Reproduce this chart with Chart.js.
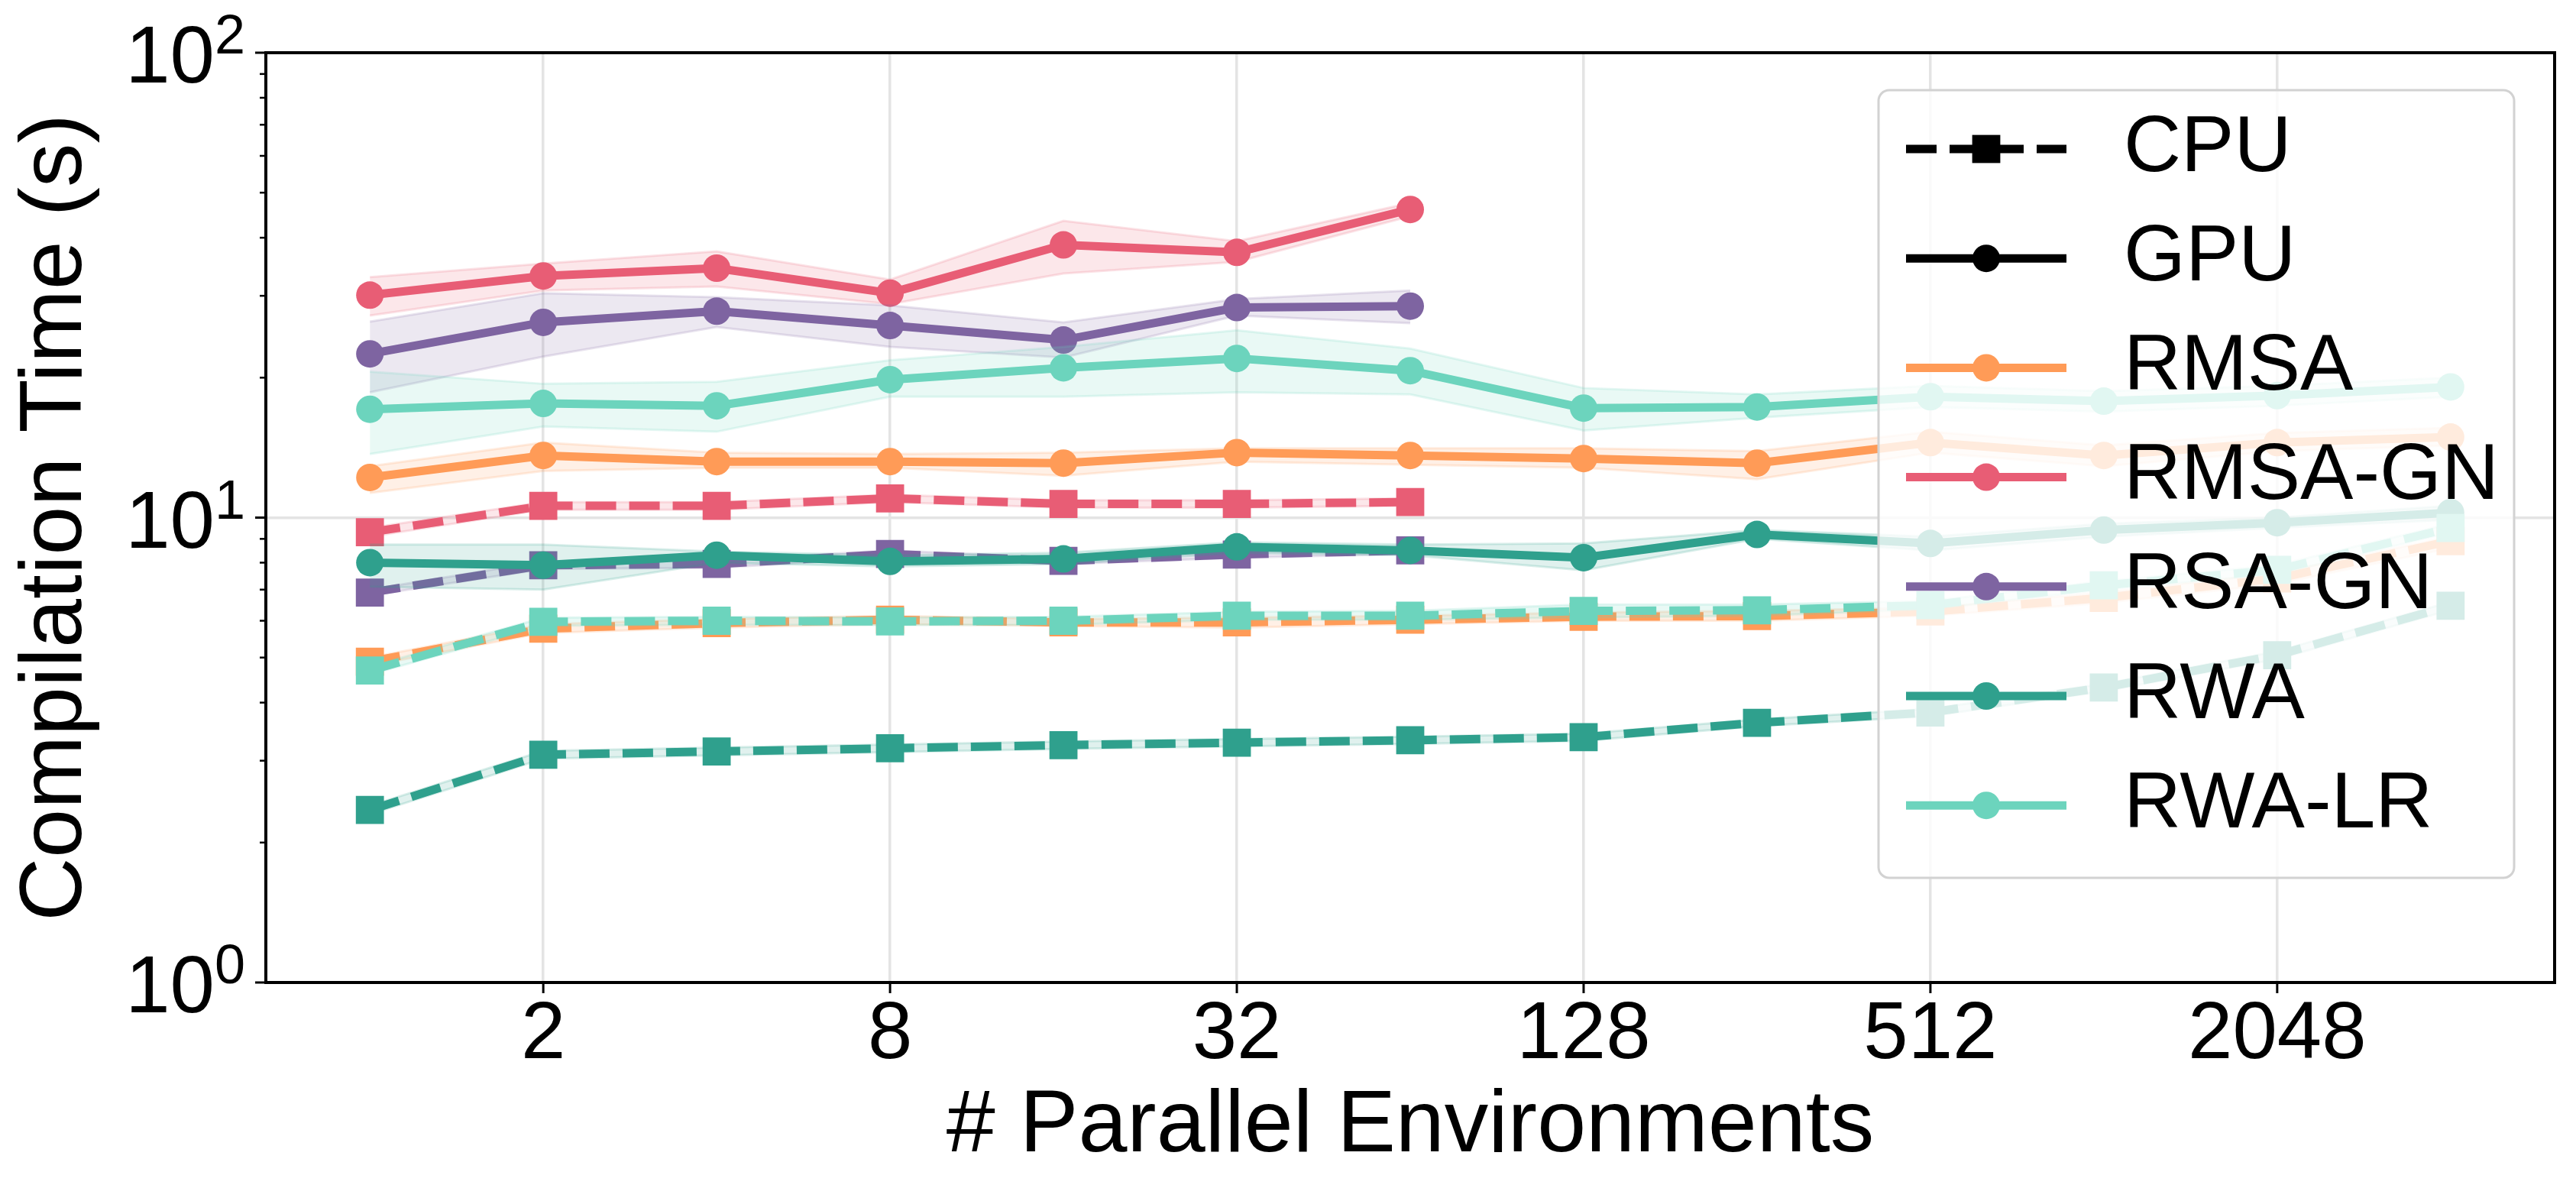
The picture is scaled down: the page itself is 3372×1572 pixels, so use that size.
<!DOCTYPE html>
<html>
<head>
<meta charset="utf-8">
<title>Compilation Time</title>
<script src="https://cdn.jsdelivr.net/npm/chart.js@4.4.1/dist/chart.umd.min.js"></script>
<style>
  html, body { margin: 0; padding: 0; background: #fff; }
  #wrap { width: 3372px; height: 1572px; }
</style>
</head>
<body>
<div id="wrap"><canvas id="chart" width="3372" height="1572"></canvas></div>
<script>
// x values and tick labels
const envs = [1, 2, 4, 8, 16, 32, 64, 128, 256, 512, 1024, 2048, 4096];
const xTicks = [2, 8, 32, 128, 512, 2048];
const yMajor = [1, 10, 100];
const yMinor = [2, 3, 4, 5, 6, 7, 8, 9, 20, 30, 40, 50, 60, 70, 80, 90];

const algos  = ['RMSA', 'RMSA-GN', 'RSA-GN', 'RWA', 'RWA-LR'];
const colors = ['#FF9B57', '#E85D75', '#7E64A1', '#2FA08D', '#6CD4BD'];

// GPU (solid, circles)
const rmsaGpu     = [12.2, 13.6, 13.2, 13.2, 13.1, 13.8, 13.6, 13.4, 13.1, 14.5, 13.6, 14.5, 14.9];
const rmsaGpuLo   = [11.3, 12.6, 12.8, 12.8, 12.3, 13.2, 13.0, 12.8, 12.1, 13.8, 12.9, 13.9, 14.3];
const rmsaGpuHi   = [12.9, 14.5, 13.8, 13.7, 13.8, 14.1, 14.1, 14.1, 13.9, 15.3, 14.3, 15.2, 15.6];
const rmsaGnGpu   = [30.1, 33.1, 34.4, 30.4, 38.6, 37.2, 46.0];
const rmsaGnGpuLo = [27.2, 30.8, 31.4, 28.8, 33.5, 35.5, 44.5];
const rmsaGnGpuHi = [32.9, 35.2, 37.4, 32.5, 43.5, 39.3, 47.5];
const rsaGnGpu    = [22.5, 26.3, 27.8, 25.9, 24.1, 28.3, 28.5];
const rsaGnGpuLo  = [18.6, 22.2, 25.7, 23.3, 22.1, 27.2, 26.2];
const rsaGnGpuHi  = [26.4, 30.4, 29.8, 28.6, 26.3, 29.5, 30.8];
const rwaGpu      = [8.0, 7.9, 8.3, 8.05, 8.15, 8.65, 8.5, 8.2, 9.2, 8.8, 9.4, 9.75, 10.25];
const rwaGpuLo    = [7.1, 7.0, 8.0, 7.85, 7.95, 8.4, 8.3, 7.7, 9.0, 8.5, 9.1, 9.5, 9.9];
const rwaGpuHi    = [8.75, 8.75, 8.45, 8.3, 8.4, 8.85, 8.75, 8.8, 9.4, 9.1, 9.7, 10.0, 10.6];
const rwaLrGpu    = [17.1, 17.6, 17.4, 19.8, 21.0, 22.0, 20.7, 17.2, 17.3, 18.2, 17.8, 18.3, 19.1];
const rwaLrGpuLo  = [13.7, 15.7, 15.3, 18.2, 18.2, 18.6, 18.4, 15.4, 16.4, 17.3, 16.9, 17.4, 18.2];
const rwaLrGpuHi  = [20.6, 19.4, 19.6, 21.8, 23.3, 25.3, 23.1, 19.0, 18.4, 19.2, 18.7, 19.2, 20.0];

// CPU (dashed, squares)
const rmsaCpu     = [4.9, 5.77, 5.93, 6.03, 5.95, 5.95, 6.03, 6.12, 6.14, 6.28, 6.72, 7.4, 8.9];
const rmsaCpuLo   = [4.8, 5.65, 5.8, 5.9, 5.85, 5.8, 5.9, 6.0, 6.0, 6.15, 6.55, 7.2, 8.6];
const rmsaCpuHi   = [5.0, 5.9, 6.05, 6.15, 6.05, 6.1, 6.15, 6.25, 6.3, 6.4, 6.9, 7.6, 9.1];
const rmsaGnCpu   = [9.3, 10.6, 10.6, 11.0, 10.7, 10.7, 10.8];
const rmsaGnCpuLo = [9.1, 10.4, 10.4, 10.8, 10.5, 10.5, 10.6];
const rmsaGnCpuHi = [9.5, 10.8, 10.8, 11.2, 10.9, 10.9, 11.0];
const rsaGnCpu    = [6.9, 7.9, 7.95, 8.35, 8.07, 8.33, 8.5];
const rsaGnCpuLo  = [6.8, 7.75, 7.8, 8.2, 7.95, 8.2, 8.35];
const rsaGnCpuHi  = [7.0, 8.05, 8.1, 8.5, 8.2, 8.45, 8.65];
const rwaCpu      = [2.35, 3.09, 3.14, 3.19, 3.24, 3.28, 3.32, 3.37, 3.62, 3.81, 4.31, 5.06, 6.46];
const rwaCpuLo    = [2.3, 3.03, 3.08, 3.13, 3.18, 3.22, 3.26, 3.31, 3.56, 3.74, 4.23, 4.96, 6.33];
const rwaCpuHi    = [2.4, 3.15, 3.2, 3.25, 3.3, 3.34, 3.38, 3.43, 3.68, 3.88, 4.39, 5.16, 6.59];
const rwaLrCpu    = [4.69, 5.97, 6.0, 5.98, 6.0, 6.15, 6.15, 6.3, 6.32, 6.48, 7.15, 7.72, 9.5];
const rwaLrCpuLo  = [4.6, 5.85, 5.88, 5.87, 5.88, 6.03, 6.03, 6.1, 6.15, 6.35, 7.0, 7.55, 9.3];
const rwaLrCpuHi  = [4.78, 6.09, 6.12, 6.1, 6.12, 6.27, 6.3, 6.5, 6.5, 6.62, 7.3, 7.9, 9.7];

const series = [
  { gpu: [rmsaGpu, rmsaGpuLo, rmsaGpuHi],       cpu: [rmsaCpu, rmsaCpuLo, rmsaCpuHi] },
  { gpu: [rmsaGnGpu, rmsaGnGpuLo, rmsaGnGpuHi], cpu: [rmsaGnCpu, rmsaGnCpuLo, rmsaGnCpuHi] },
  { gpu: [rsaGnGpu, rsaGnGpuLo, rsaGnGpuHi],    cpu: [rsaGnCpu, rsaGnCpuLo, rsaGnCpuHi] },
  { gpu: [rwaGpu, rwaGpuLo, rwaGpuHi],          cpu: [rwaCpu, rwaCpuLo, rwaCpuHi] },
  { gpu: [rwaLrGpu, rwaLrGpuLo, rwaLrGpuHi],    cpu: [rwaLrCpu, rwaLrCpuLo, rwaLrCpuHi] },
];

const FONT = "'Liberation Sans', Arial, Helvetica, sans-serif";
const GRID = '#e4e4e4';
const LW = 11;
const DASH = [40, 17];
const R_CIRCLE = 18, R_RECT = 26;

function rgba(hex, a) {
  const n = parseInt(hex.slice(1), 16);
  return `rgba(${(n >> 16) & 255},${(n >> 8) & 255},${n & 255},${a})`;
}
const pts = vals => vals.map((v, i) => ({ x: envs[i], y: v }));

// matplotlib draws in call order; chart.js draws high `order` first
const datasets = [];
let n = 0;
function push(ds) { ds.order = 1000 - (n++); datasets.push(ds); }

series.forEach((s, k) => {
  const c = colors[k];
  [['gpu', s.gpu], ['cpu', s.cpu]].forEach(([dev, [mean, lo, hi]]) => {
    const cpu = dev === 'cpu';
    push({ label: algos[k] + ' ' + dev + ' hi', data: pts(hi), borderColor: rgba(c, 0.18), borderWidth: 3,
           backgroundColor: rgba(c, 0.15), pointRadius: 0, fill: '+1' });
    push({ label: algos[k] + ' ' + dev + ' lo', data: pts(lo), borderColor: rgba(c, 0.18), borderWidth: 3,
           pointRadius: 0, fill: false });
    push({ label: algos[k] + ' ' + dev.toUpperCase(), data: pts(mean), borderColor: c, borderWidth: LW,
           borderDash: cpu ? DASH : [], pointStyle: cpu ? 'rect' : 'circle',
           pointRadius: cpu ? R_RECT : R_CIRCLE, pointBackgroundColor: c, pointBorderWidth: 0, fill: false });
  });
});

// frame, tick marks and 10^n labels
const axesPlugin = {
  id: 'mplAxes',
  afterDatasetsDraw(chart) {
    const { ctx, chartArea: a, scales } = chart;
    ctx.save();
    ctx.strokeStyle = '#000';
    ctx.lineWidth = 3;
    xTicks.forEach(v => {
      const x = scales.x.getPixelForValue(v);
      ctx.beginPath(); ctx.moveTo(x, a.bottom); ctx.lineTo(x, a.bottom + 14); ctx.stroke();
    });
    yMajor.forEach(v => {
      const y = scales.y.getPixelForValue(v);
      ctx.beginPath(); ctx.moveTo(a.left - 14, y); ctx.lineTo(a.left, y); ctx.stroke();
    });
    ctx.lineWidth = 2.5;
    yMinor.forEach(v => {
      const y = scales.y.getPixelForValue(v);
      ctx.beginPath(); ctx.moveTo(a.left - 8, y); ctx.lineTo(a.left, y); ctx.stroke();
    });
    ctx.lineWidth = 4;
    ctx.strokeRect(a.left, a.top, a.right - a.left, a.bottom - a.top);

    ctx.fillStyle = '#000';
    ctx.textBaseline = 'alphabetic';
    ctx.textAlign = 'right';
    yMajor.forEach(v => {
      const y = scales.y.getPixelForValue(v);
      const p = String(Math.round(Math.log10(v)));
      ctx.font = `72px ${FONT}`;
      const ew = ctx.measureText(p).width;
      ctx.fillText(p, a.left - 27, y + 1);
      ctx.font = `105px ${FONT}`;
      ctx.fillText('10', a.left - 27 - ew, y + 39);
    });
    ctx.restore();
  }
};

// legend box (CPU / GPU style keys, then the algorithms)
const legendPlugin = {
  id: 'mplLegend',
  afterDraw(chart) {
    const { ctx, chartArea: a } = chart;
    const x0 = a.right - 885, y0 = a.top + 49, w = 832, h = 1031;
    ctx.save();
    ctx.beginPath();
    ctx.roundRect(x0, y0, w, h, 14);
    ctx.fillStyle = 'rgba(255,255,255,0.8)';
    ctx.fill();
    ctx.lineWidth = 3;
    ctx.strokeStyle = '#d2d2d2';
    ctx.stroke();

    const entries = [
      { text: 'CPU', color: '#000', dash: true },
      { text: 'GPU', color: '#000', dash: false },
      ...algos.map((t, i) => ({ text: t, color: colors[i], dash: false })),
    ];
    const hx0 = x0 + 36, hx1 = x0 + 246, mx = (hx0 + hx1) / 2;
    entries.forEach((e, i) => {
      const y = y0 + 77 + i * 143.2;
      ctx.strokeStyle = e.color;
      ctx.fillStyle = e.color;
      ctx.lineWidth = LW;
      ctx.setLineDash(e.dash ? DASH : []);
      ctx.beginPath(); ctx.moveTo(hx0, y); ctx.lineTo(hx1, y); ctx.stroke();
      ctx.setLineDash([]);
      if (e.dash) {
        const s = R_RECT * Math.SQRT1_2;
        ctx.fillRect(mx - s, y - s, 2 * s, 2 * s);
      } else {
        ctx.beginPath(); ctx.arc(mx, y, R_CIRCLE, 0, Math.PI * 2); ctx.fill();
      }
      ctx.fillStyle = '#000';
      ctx.font = `104px ${FONT}`;
      ctx.textAlign = 'left';
      ctx.textBaseline = 'middle';
      ctx.fillText(e.text, x0 + 321, y);
    });
    ctx.restore();
  }
};

Chart.defaults.font.family = FONT;
Chart.defaults.color = '#000';

new Chart(document.getElementById('chart'), {
  type: 'line',
  data: { datasets },
  options: {
    responsive: false,
    devicePixelRatio: 1,
    animation: false,
    events: [],
    layout: { padding: { top: 69, right: 28, left: 0, bottom: 0 } },
    elements: { line: { tension: 0 } },
    plugins: { legend: { display: false }, tooltip: { enabled: false } },
    scales: {
      x: {
        type: 'logarithmic',
        min: Math.pow(2, -0.6),
        max: Math.pow(2, 12.6),
        afterBuildTicks: s => { s.ticks = xTicks.map(v => ({ value: v })); },
        afterFit: s => { s.height = 286; },
        ticks: { callback: v => String(v), font: { size: 105, lineHeight: 1.2 }, padding: 7, maxRotation: 0, autoSkip: false },
        grid: { color: GRID, lineWidth: 3.5, drawTicks: false },
        border: { display: false },
        title: { display: true, text: '# Parallel Environments', font: { size: 115, lineHeight: 1.2 }, padding: { top: 0, bottom: 28 } },
      },
      y: {
        type: 'logarithmic',
        min: 1,
        max: 100,
        afterBuildTicks: s => { s.ticks = [...yMajor, ...yMinor].sort((p, q) => p - q).map(v => ({ value: v })); },
        afterFit: s => { s.width = 348; },
        ticks: { display: false },
        grid: { color: c => yMajor.includes(c.tick && c.tick.value) ? GRID : 'rgba(0,0,0,0)', lineWidth: 3.5, drawTicks: false },
        border: { display: false },
        title: { display: true, text: 'Compilation Time (s)', font: { size: 115, lineHeight: 1.2 }, padding: { top: 5, bottom: 0 } },
      },
    },
  },
  plugins: [axesPlugin, legendPlugin],
});
</script>
</body>
</html>
